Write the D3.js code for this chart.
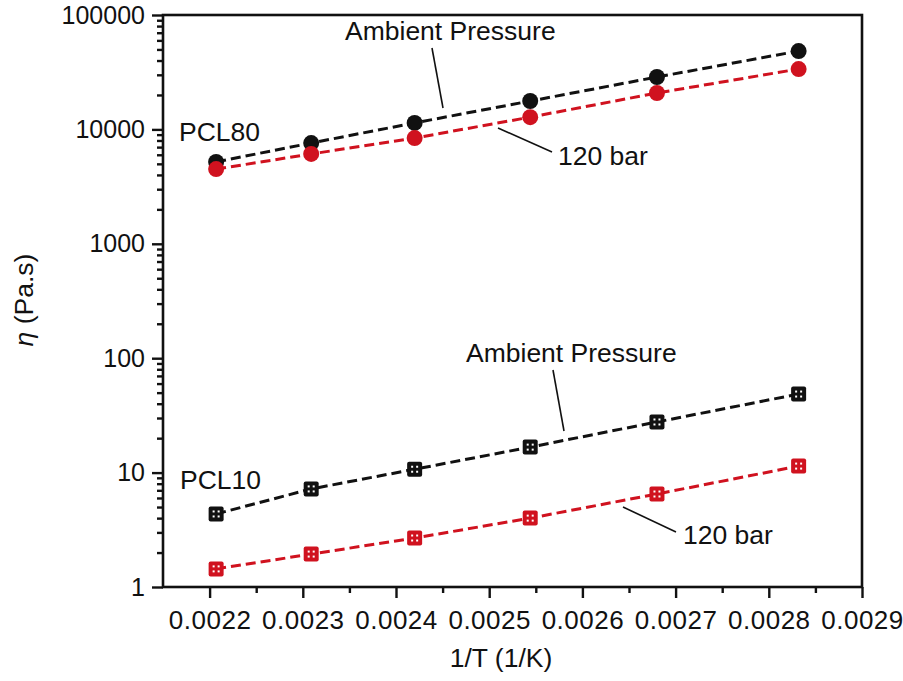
<!DOCTYPE html>
<html>
<head>
<meta charset="utf-8">
<script src="https://cdn.jsdelivr.net/npm/d3@7"></script>
<style>
  body { margin: 0; background: #fff; }
  svg { font-family: "Liberation Sans", Arial, sans-serif; }
  .tick text { font-size: 25px; fill: #111; }
  .x-axis .tick text { font-size: 26px; letter-spacing: 0.5px; }
  .ann { font-size: 26.5px; fill: #111; }
</style>
</head>
<body>
<div id="wrap"></div>
<script>
// 1/T values (1/K) for 180, 160, 140, 120, 100, 80 °C
const invT = [0.002207, 0.002309, 0.002420, 0.002544, 0.002680, 0.002832]

const pcl80Ambient = [5200, 7600, 11400, 17700, 28700, 48400]
const pcl80Bar120  = [4500, 6100, 8400, 12800, 20800, 33700]
const pcl10Ambient = [4.35, 7.2, 10.7, 16.7, 27.7, 48.6]
const pcl10Bar120  = [1.44, 1.94, 2.68, 4.0, 6.5, 11.4]

const xTicks = [0.0022, 0.0023, 0.0024, 0.0025, 0.0026, 0.0027, 0.0028, 0.0029]
const xMinorTicks = [0.00225, 0.00235, 0.00245, 0.00255, 0.00265, 0.00275, 0.00285]
const yTicks = [1, 10, 100, 1000, 10000, 100000]

const black = "#111111"
const red = "#d0121f"

const series = [
  { values: pcl80Ambient, color: black, shape: "circle" },
  { values: pcl80Bar120, color: red, shape: "circle" },
  { values: pcl10Ambient, color: black, shape: "square" },
  { values: pcl10Bar120, color: red, shape: "square" },
]

const dimensions = {
  width: 903,
  height: 681,
  margin: { top: 15, right: 41, bottom: 94, left: 163 },
}
dimensions.boundedWidth = dimensions.width - dimensions.margin.left - dimensions.margin.right
dimensions.boundedHeight = dimensions.height - dimensions.margin.top - dimensions.margin.bottom

const svg = d3.select("#wrap")
  .append("svg")
    .attr("width", dimensions.width)
    .attr("height", dimensions.height)

const bounds = svg.append("g")
    .attr("transform", `translate(${dimensions.margin.left},${dimensions.margin.top})`)

// scales
const xScale = d3.scaleLinear()
  .domain([0.00215, 0.0029])
  .range([0, dimensions.boundedWidth])

const yScale = d3.scaleLog()
  .domain([1, 100000])
  .range([dimensions.boundedHeight, 0])

const yMinorTicks = []
yTicks.slice(0, -1).forEach(d => {
  for (let k = 2; k <= 9; k++) yMinorTicks.push(d * k)
})

// axes
bounds.append("g")
    .attr("class", "x-axis")
    .attr("transform", `translate(0,${dimensions.boundedHeight})`)
    .call(d3.axisBottom(xScale).tickValues(xTicks).tickFormat(d3.format(".4f")).tickSize(11).tickPadding(13))
bounds.append("g")
    .attr("transform", `translate(0,${dimensions.boundedHeight})`)
    .call(d3.axisBottom(xScale).tickValues(xMinorTicks).tickFormat("").tickSize(6))

bounds.append("g")
    .call(d3.axisLeft(yScale).tickValues(yTicks).tickFormat(d3.format("d")).tickSize(11).tickPadding(7))
bounds.append("g")
    .call(d3.axisLeft(yScale).tickValues(yMinorTicks).tickFormat("").tickSize(6))

bounds.selectAll(".domain").remove()
bounds.selectAll(".tick line").attr("stroke", black).attr("stroke-width", 2.4)

// frame
bounds.append("rect")
    .attr("width", dimensions.boundedWidth)
    .attr("height", dimensions.boundedHeight)
    .attr("fill", "none")
    .attr("stroke", black)
    .attr("stroke-width", 2.6)

// lines
const lineGen = d3.line()
  .x((d, i) => xScale(invT[i]))
  .y(d => yScale(d))

series.forEach(s => {
  bounds.append("path")
      .attr("d", lineGen(s.values))
      .attr("fill", "none")
      .attr("stroke", s.color)
      .attr("stroke-width", 3)
      .attr("stroke-dasharray", "10,5")
})

// markers
series.forEach(s => {
  const g = bounds.append("g")
  const pts = g.selectAll("g")
    .data(s.values)
    .enter().append("g")
      .attr("transform", (d, i) => `translate(${xScale(invT[i])},${yScale(d)})`)
  if (s.shape === "circle") {
    pts.append("circle")
        .attr("r", 8)
        .attr("fill", s.color)
  } else {
    pts.append("rect")
        .attr("x", -7.5).attr("y", -7.5)
        .attr("width", 15).attr("height", 15)
        .attr("rx", 2)
        .attr("fill", s.color)
    ;[[-2.5, -2.5], [2.5, -2.5], [-2.5, 2.5], [2.5, 2.5]].forEach(([dx, dy]) => {
      pts.append("rect")
          .attr("x", dx - 1).attr("y", dy - 1)
          .attr("width", 2).attr("height", 2)
          .attr("fill", "#fff")
    })
  }
})

// annotations (page coordinates)
const ann = svg.append("g")
const labels = [
  { text: "Ambient Pressure", x: 345, y: 40 },
  { text: "120 bar", x: 558, y: 165 },
  { text: "PCL80", x: 179, y: 141 },
  { text: "Ambient Pressure", x: 466, y: 362 },
  { text: "PCL10", x: 180, y: 489 },
  { text: "120 bar", x: 683, y: 544 },
]
ann.selectAll("text")
  .data(labels)
  .enter().append("text")
    .attr("class", "ann")
    .attr("x", d => d.x)
    .attr("y", d => d.y)
    .text(d => d.text)

const leaders = [
  [432, 48, 443, 108],
  [498, 128, 552, 152],
  [553, 370, 564, 431],
  [623, 507, 676, 532],
]
ann.selectAll("line")
  .data(leaders)
  .enter().append("line")
    .attr("x1", d => d[0]).attr("y1", d => d[1])
    .attr("x2", d => d[2]).attr("y2", d => d[3])
    .attr("stroke", black)
    .attr("stroke-width", 1.6)

// axis titles
svg.append("text")
    .attr("class", "ann")
    .attr("x", 501)
    .attr("y", 667)
    .attr("text-anchor", "middle")
    .text("1/T (1/K)")

const yTitle = svg.append("text")
    .attr("class", "ann")
    .attr("transform", "translate(33,300) rotate(-90)")
    .attr("text-anchor", "middle")
yTitle.append("tspan").style("font-style", "italic").text("η")
yTitle.append("tspan").text(" (Pa.s)")
</script>
</body>
</html>
